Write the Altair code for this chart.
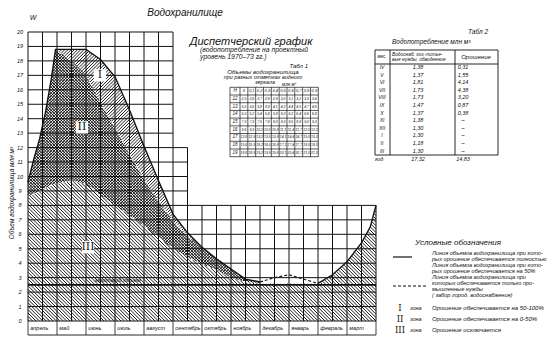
import numpy as np
import pandas as pd
import altair as alt

# ---------------- values ----------------
MONTHS = ["апрель", "май", "июнь", "июль", "август", "сентябрь",
          "октябрь", "ноябрь", "декабрь", "январь", "февраль", "март"]

# month position (0 = start of April) and reservoir volume W, mln m3
CURVE_M = [0, 0.2, 0.4, 0.6, 0.8, 0.95, 1.5, 2.0, 2.5, 3.0, 3.5, 4.0, 4.5, 5.0, 5.5,
           6.0, 6.5, 7.0, 7.5, 8.0, 8.5, 9.0, 9.5, 10.0, 10.5, 11.0, 11.5, 11.8, 12.0]
# line of volumes with full irrigation supply
UPPER_W = [9.6, 11.2, 12.6, 14.4, 16.7, 18.8, 18.8, 18.8, 18.1, 16.9, 14.6, 12.1, 9.7, 7.4, 6.1,
           5.1, 4.3, 3.6, 2.9, 2.7, 3.0, 3.2, 2.9, 2.6, 3.2, 4.1, 5.4, 6.5, 8.0]
# line of volumes with 50 % irrigation supply
MIDDLE_W = [9.6, 11.2, 12.6, 14.4, 16.7, 18.8, 18.0, 17.0, 15.1, 13.4, 11.5, 9.8, 8.3, 6.9, 5.9,
            5.1, 4.3, 3.6, 2.9, 2.7, 3.0, 3.2, 2.9, 2.6, 3.2, 4.1, 5.4, 6.5, 8.0]
# line of volumes with only industrial needs supplied
LOWER_W = [8.6, 8.8, 9.0, 9.2, 9.4, 9.5, 9.7, 9.5, 8.7, 8.0, 7.3, 6.6, 5.8, 5.0, 4.4,
           3.95, 3.5, 3.0, 2.7, 2.6, 2.6, 2.6, 2.6, 2.6, 3.2, 4.1, 5.4, 6.5, 8.0]
DEAD_VOLUME_W = 2.5
Y_TICKS = list(range(0, 21))

ZONE_NAMES = ["I", "II", "III"]
ZONE_M = [2.48, 1.86, 2.07]
ZONE_W = [17.0, 13.4, 5.1]

# Table 1 : volumes at different water levels
T1_LEVELS = ["12", "13", "14", "15", "16", "17", "18", "19"]
T1_DECIMALS = ["0", "0,1", "0,2", "0,3", "0,4", "0,5", "0,6", "0,7", "0,8", "0,9"]
T1_ROWS = [
    ["2,5", "2,6", "2,7", "2,8", "2,9", "3,0", "3,1", "3,2", "3,3", "3,4"],
    ["3,5", "3,6", "3,8", "3,9", "4,1", "4,2", "4,4", "4,5", "4,7", "4,8"],
    ["5,0", "5,2", "5,4", "5,6", "5,8", "6,0", "6,2", "6,4", "6,6", "6,8"],
    ["7,0", "7,3", "7,5", "7,8", "8,0", "8,3", "8,5", "8,8", "9,0", "9,3"],
    ["9,6", "9,9", "10,2", "10,5", "10,8", "11,1", "11,4", "11,7", "12,0", "12,3"],
    ["12,6", "12,9", "13,2", "13,5", "13,8", "14,1", "14,4", "14,7", "15,0", "15,3"],
    ["15,6", "15,9", "16,2", "16,5", "16,8", "17,1", "17,4", "17,7", "18,0", "18,3"],
    ["18,6", "18,9", "19,2", "19,5", "19,8", "20,1", "20,4", "20,7", "21,0", "21,3"],
]

# Table 2 : water consumption, mln m3
T2_MONTHS = ["IV", "V", "VI", "VII", "VIII", "IX", "X", "XI", "XII", "I", "II", "III"]
T2_SUPPLY = ["1,38", "1,37", "1,81", "1,73", "1,73", "1,47", "1,37", "1,38", "1,30", "1,30", "1,18", "1,30"]
T2_IRRIG = ["0,31", "1,55", "4,14", "4,38", "3,20", "0,87", "0,38", "–", "–", "–", "–", "–"]
T2_TOTAL = ["17,32", "14,83"]

# ---------------- layout ----------------
FONT = "Liberation Sans"
OX, OY = 28, 32            # plot origin in the page
W_PX, H_PX = 348, 289      # plot size
INK = "#111111"

xs = alt.Scale(domain=[0, 12], nice=False, zero=False)
ys = alt.Scale(domain=[0, 20], nice=False, zero=False)


def hatch(lo, hi, slope, step, m_max):
    """hatch segments (in data units) filling the band lo..hi"""
    xp = np.arange(0.0, W_PX * m_max / 12 + 1e-9, 0.5)
    ms = xp * 12 / W_PX
    lo_i = np.interp(ms, CURVE_M, lo)
    hi_i = np.interp(ms, CURVE_M, hi)
    cs = np.arange(-W_PX, H_PX, step) if slope > 0 else np.arange(0, W_PX + H_PX, step)
    recs = []
    for c in cs:
        yp = xp + c if slope > 0 else c - xp
        w = 20 - yp * 20 / H_PX
        ins = (w >= lo_i) & (w <= hi_i) & (yp >= 0) & (yp <= H_PX)
        if not ins.any():
            continue
        d = np.diff(np.concatenate([[0], ins.astype(int), [0]]))
        starts = np.where(d == 1)[0]
        ends = np.where(d == -1)[0] - 1
        for s, e in zip(starts, ends):
            if e > s:
                recs.append((ms[s], w[s], ms[e], w[e]))
    return recs


def seg_layer(recs, width, color=INK, opacity=1.0, dash=None):
    df = pd.DataFrame(recs, columns=["m1", "w1", "m2", "w2"])
    kw = dict(strokeWidth=width, color=color, opacity=opacity)
    if dash:
        kw["strokeDash"] = dash
    return alt.Chart(df).mark_rule(**kw).encode(
        x=alt.X("m1:Q", scale=xs, axis=None),
        y=alt.Y("w1:Q", scale=ys, axis=None),
        x2="m2:Q", y2="w2:Q")


def px_rules(recs, width=0.8, dash=None):
    df = pd.DataFrame([(a - OX, b - OY, c - OX, d - OY) for a, b, c, d in recs],
                      columns=["x1", "y1", "x2", "y2"])
    kw = dict(strokeWidth=width, color=INK)
    if dash:
        kw["strokeDash"] = dash
    return alt.Chart(df).mark_rule(**kw).encode(
        x=alt.X("x1:Q", scale=None, axis=None),
        y=alt.Y("y1:Q", scale=None, axis=None),
        x2="x2:Q", y2="y2:Q")


def px_text(items, align="left", font=FONT, style="italic", weight="normal", angle=0):
    df = pd.DataFrame([(x - OX, y - OY, t, fs) for x, y, t, fs in items],
                      columns=["px", "py", "t", "fs"])
    return alt.Chart(df).mark_text(align=align, baseline="middle", font=font,
                                   fontStyle=style, fontWeight=weight, angle=angle,
                                   color=INK).encode(
        x=alt.X("px:Q", scale=None, axis=None),
        y=alt.Y("py:Q", scale=None, axis=None),
        text="t:N",
        size=alt.Size("fs:Q", scale=None, legend=None))


layers = []

# ---- hatching of the three zones ----
zero = [0.0] * len(CURVE_M)
HW = 0.9
layers.append(seg_layer(hatch(zero, LOWER_W, +1, 3.4, 12), HW, color="#000"))        # zone III
layers.append(seg_layer(hatch(LOWER_W, MIDDLE_W, +1, 2.9, 8), HW, color="#000"))     # zone II
layers.append(seg_layer(hatch(LOWER_W, MIDDLE_W, -1, 2.9, 8), HW, color="#000"))
layers.append(seg_layer(hatch(MIDDLE_W, UPPER_W, -1, 3.2, 6), HW, color="#000"))     # zone I

# ---- stepped grid ----
GRID_STEPS = [(5.0, 20), (5.5, 12), (12.0, 8)]   # (right edge month, top W)


def grid_top(m):
    for edge, top in GRID_STEPS:
        if m <= edge + 1e-9:
            return top
    return 8


grid = []
for m in np.arange(0, 12.01, 0.5):
    grid.append((m, 0, m, grid_top(m)))
for w in Y_TICKS:
    right = max(edge for edge, top in GRID_STEPS if top >= w)
    grid.append((0, w, right, w))
layers.append(seg_layer(grid, 1.0))

# dead volume line
layers.append(seg_layer([(0, DEAD_VOLUME_W, 12, DEAD_VOLUME_W)], 1.6))

# ---- curves ----
cdf = pd.DataFrame({"m": CURVE_M, "w": UPPER_W})
solid = pd.concat([cdf[cdf.m <= 8.0].assign(seg="a"), cdf[cdf.m >= 10.0].assign(seg="b")])
dashed = cdf[(cdf.m >= 8.0) & (cdf.m <= 10.0)]
layers.append(alt.Chart(solid).mark_line(color=INK, strokeWidth=1.4).encode(
    x=alt.X("m:Q", scale=xs, axis=None), y=alt.Y("w:Q", scale=ys, axis=None), detail="seg:N"))
layers.append(alt.Chart(dashed).mark_line(color=INK, strokeWidth=1.1, strokeDash=[3, 2]).encode(
    x=alt.X("m:Q", scale=xs, axis=None), y=alt.Y("w:Q", scale=ys, axis=None)))

# ---- zone labels inside the chart ----
zdf = pd.DataFrame({"z": ZONE_NAMES, "m": ZONE_M, "w": ZONE_W})
layers.append(alt.Chart(zdf).mark_square(size=150, color="white", opacity=1).encode(
    x=alt.X("m:Q", scale=xs, axis=None), y=alt.Y("w:Q", scale=ys, axis=None)))
layers.append(alt.Chart(zdf).mark_text(font="DejaVu Serif", fontSize=11, color=INK).encode(
    x=alt.X("m:Q", scale=xs, axis=None), y=alt.Y("w:Q", scale=ys, axis=None), text="z:N"))

# dead volume label
dv = pd.DataFrame({"t": ["мертвый объем"], "m": [3.1], "w": [DEAD_VOLUME_W + 0.35]})
layers.append(alt.Chart(dv).mark_text(font=FONT, fontStyle="italic", fontSize=6, color=INK,
                                      baseline="middle").encode(
    x=alt.X("m:Q", scale=xs, axis=None), y=alt.Y("w:Q", scale=ys, axis=None), text="t:N"))

# y tick labels
tdf = pd.DataFrame({"w": Y_TICKS, "t": [str(v) for v in Y_TICKS]})
layers.append(alt.Chart(tdf).mark_text(font=FONT, fontStyle="italic", fontSize=5.5, color=INK,
                                       align="center", baseline="middle").encode(
    x=alt.value(-8), y=alt.Y("w:Q", scale=ys, axis=None), text="t:N"))

# month row
mdf = pd.DataFrame({"m": [i + 0.08 for i in range(12)], "t": MONTHS})
layers.append(alt.Chart(mdf).mark_text(font=FONT, fontStyle="italic", fontSize=5.5, color=INK,
                                       align="left", baseline="middle").encode(
    x=alt.X("m:Q", scale=xs, axis=None), y=alt.value(296), text="t:N"))
bdf = pd.DataFrame({"m": list(range(13))})
layers.append(alt.Chart(bdf).mark_rule(color=INK, strokeWidth=0.8).encode(
    x=alt.X("m:Q", scale=xs, axis=None), y=alt.value(289), y2=alt.value(303)))
layers.append(px_rules([(OX, OY + 303, OX + W_PX, OY + 303)], 0.9))

# ---- table 1 ----
t1_x = [230, 240] + [240 + 7.83 * k for k in range(1, 11)]
t1_y = [87.3 + 7.71 * k for k in range(10)]
t1_lines = [(x, t1_y[0], x, t1_y[-1]) for x in t1_x] + [(t1_x[0], y, t1_x[-1], y) for y in t1_y]
layers.append(px_rules(t1_lines, 0.7))
t1_items = [((t1_x[0] + t1_x[1]) / 2, (t1_y[0] + t1_y[1]) / 2, "Н", 4.5)]
for j, dcol in enumerate(T1_DECIMALS):
    t1_items.append(((t1_x[j + 1] + t1_x[j + 2]) / 2, (t1_y[0] + t1_y[1]) / 2, dcol, 4))
for i, lev in enumerate(T1_LEVELS):
    yc = (t1_y[i + 1] + t1_y[i + 2]) / 2
    t1_items.append(((t1_x[0] + t1_x[1]) / 2, yc, lev, 4.5))
    for j, val in enumerate(T1_ROWS[i]):
        t1_items.append(((t1_x[j + 1] + t1_x[j + 2]) / 2, yc, val, 3.4))

# ---- table 2 ----
t2_lines = [(375, 50, 498, 50), (375, 155, 498, 155), (375, 50, 375, 155), (498, 50, 498, 155),
            (390, 50, 390, 155), (455, 50, 455, 155), (375, 64, 498, 64)]
layers.append(px_rules(t2_lines, 0.9))
t2_center = [(382, 57, "мес.", 4.5), (476, 57, "Орошение", 6)]
for i in range(12):
    yc = 67 + 7.6 * i
    t2_center += [(382, yc, T2_MONTHS[i], 5), (418, yc, T2_SUPPLY[i], 5.5), (463, yc, T2_IRRIG[i], 5.5)]
t2_center += [(379, 159, "год", 5.5), (418, 159, T2_TOTAL[0], 5.5), (463, 159, T2_TOTAL[1], 5.5)]

# ---- legend samples ----
layers.append(px_rules([(393, 257, 412, 257)], 1.2))
layers.append(px_rules([(393, 286, 428, 286)], 1.0, dash=[3, 2]))

left_items = [
    (200, 50, "(водопотребление на проектный", 6.8),
    (200, 57, "уровень 1970–73 гг.)", 6.8),
    (392, 42, "Водопотребление  млн м³", 6.5),
    (392, 54.5, "Водоснаб. хоз.-питье-", 4.8),
    (392, 59.5, "вые нужды, обводнение", 4.8),
    (415, 243, "Условные обозначения", 8),
    (432, 253, "Линия объемов водохранилища при кото-", 5.6),
    (432, 259, "рых орошение обеспечивается полностью", 5.6),
    (432, 265, "Линия объемов водохранилища при кото-", 5.6),
    (432, 271, "рых орошение обеспечивается на 50%", 5.6),
    (432, 277, "Линия объемов водохранилища при", 5.6),
    (432, 283, "которых обеспечивается только про-", 5.6),
    (432, 289, "мышленные нужды", 5.6),
    (432, 295, "( забор город. водоснабжения)", 5.6),
    (410, 308, "зона", 5.5), (410, 319, "зона", 5.5), (410, 330, "зона", 5.5),
    (432, 308, "Орошение обеспечивается на 50-100%", 6),
    (432, 319, "Орошение обеспечивается на 0-50%", 6),
    (432, 330, "Орошение исключается", 6),
]
center_items = [
    (185, 13, "Водохранилище", 10),
    (33, 18, "W", 7),
    (251, 42, "Диспетчерский график", 11),
    (263, 72, "Объемы водохранилища", 6.2),
    (263, 77, "при разных отметках водного", 5.4),
    (265, 82, "зеркала", 5.4),
] + t1_items + t2_center
right_items = [
    (308, 66, "Табл 1", 6),
    (296, 85, "млн м³", 4.5),
    (488, 32, "Табл 2", 6.5),
]
layers.append(px_text(left_items, "left"))
layers.append(px_text(center_items, "center"))
layers.append(px_text(right_items, "right"))
layers.append(px_text([(400, 308, "I", 8.5), (400, 319, "II", 8.5), (400, 330, "III", 8.5)],
                      "center", font="DejaVu Serif", style="normal"))
layers.append(px_text([(12, 193, "Объем водохранилища  млн м³", 6.5)], "center", angle=270))

chart = alt.layer(*layers).properties(
    width=W_PX, height=H_PX,
    padding={"left": OX, "top": OY, "right": 552 - OX - W_PX, "bottom": 357 - OY - H_PX},
    autosize=alt.AutoSizeParams(type="none"),
    background="white",
).configure_view(stroke=None)

chart.save("out.html", embed_options={"renderer": "svg", "actions": False})
